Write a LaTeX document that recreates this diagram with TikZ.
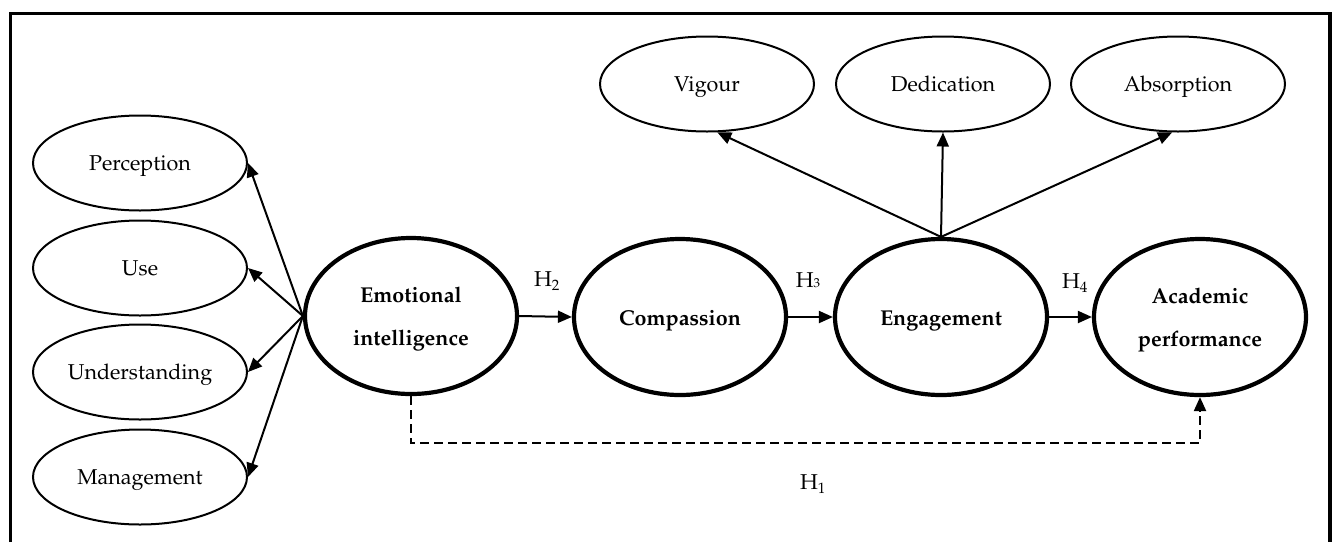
\documentclass[tikz,border=0pt]{standalone}
\usepackage[T1]{fontenc}
\renewcommand{\rmdefault}{ppl}
\usetikzlibrary{arrows.meta,shapes.geometric}
\begin{document}
\begin{tikzpicture}[x=1pt,y=-1pt,
  lbl/.style={font=\fontsize{21.5}{24}\selectfont, inner sep=0pt},
  smallell/.style={ellipse,draw,line width=2pt,minimum width=214pt,minimum height=95pt,inner sep=0pt,text height=18pt,text depth=4pt,font=\fontsize{21.5}{24}\selectfont},
  bigell/.style={ellipse,draw,line width=4.2pt,minimum width=212pt,minimum height=156pt,inner sep=0pt,align=center,font=\bfseries\fontsize{21.5}{43}\selectfont},
  oneline/.style={text height=22pt},
  twoline/.style={text depth=-2.5pt},
  conn/.style={line width=2pt,-{Triangle[length=14pt,width=12pt]}},
  dconn/.style={line width=2.2pt,dash pattern=on 9pt off 5pt,-{Triangle[length=14pt,width=12pt]}},
]
\useasboundingbox (0,0) rectangle (1335,542);
% frame
\draw[line width=3.5pt] (10.5,542) -- (10.5,13.5) -- (1330,13.5) -- (1330,542);

% left indicators
\node[smallell] (per) at (140,163) {Perception};
\node[smallell] (use) at (140,268) {Use};
\node[smallell] (und) at (140,372) {Understanding};
\node[smallell] (man) at (140,477) {Management};

% top indicators
\node[smallell] (vig) at (707,84) {Vigour};
\node[smallell] (ded) at (943,84) {Dedication};
\node[smallell] (abs) at (1178,84) {Absorption};

% main constructs
\node[bigell,twoline] (ei) at (411,316) {Emotional\\intelligence};
\node[bigell,oneline] (com) at (680,317) {Compassion};
\node[bigell,oneline] (eng) at (941,317) {Engagement};
\node[bigell,twoline] (ap) at (1200,317) {Academic\\performance};

% left arrows
\draw[conn] (ei.west) -- (per.east);
\draw[conn] (ei.west) -- (use.east);
\draw[conn] (ei.west) -- (und.east);
\draw[conn] (ei.west) -- (man.east);

% top arrows
\draw[conn] (eng.north) -- (vig.-78);
\draw[conn] (eng.north) -- (ded.south);
\draw[conn] (eng.north) -- (abs.-97);

% main path
\draw[conn] (ei.east) -- (com.west);
\draw[conn] (com.east) -- (eng.west);
\draw[conn] (eng.east) -- (ap.west);

% dashed H1
\coordinate (dashy) at (0,443);
\draw[dconn] (ei.south) -- (ei.south |- dashy) -| (ap.south);

% labels
\node[lbl] (h2) at (547,281) {H\textsubscript{2}};
\node[lbl] (h3) at (808,280) {H{\fontsize{13}{13}\selectfont 3}};
\node[lbl] (h4) at (1075,283) {H\textsubscript{4}};
\node[lbl] (h1) at (813,484) {H\textsubscript{1}};
\end{tikzpicture}
\end{document}
